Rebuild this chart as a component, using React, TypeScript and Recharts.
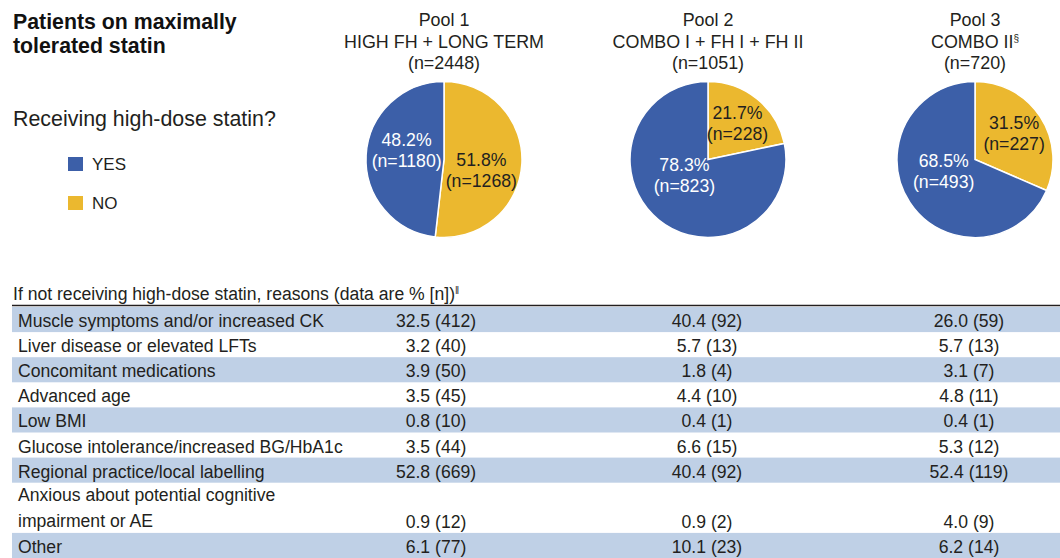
import React from 'react';
import { PieChart, Pie, Cell, Legend } from 'recharts';

// ---------- data ----------
const poolNames = ['Pool 1', 'Pool 2', 'Pool 3'];
const poolStudies = ['HIGH FH + LONG TERM', 'COMBO I + FH I + FH II', 'COMBO II'];
const poolStudyMarks = ['', '', '§'];
const poolTotals = [2448, 1051, 720];

const answerLabels = ['YES', 'NO'];
const yesPercent = [48.2, 78.3, 68.5];
const yesCount = [1180, 823, 493];
const noPercent = [51.8, 21.7, 31.5];
const noCount = [1268, 228, 227];

const reasonLabels: string[][] = [
  ['Muscle symptoms and/or increased CK'],
  ['Liver disease or elevated LFTs'],
  ['Concomitant medications'],
  ['Advanced age'],
  ['Low BMI'],
  ['Glucose intolerance/increased BG/HbA1c'],
  ['Regional practice/local labelling'],
  ['Anxious about potential cognitive', 'impairment or AE'],
  ['Other'],
];
const pool1ReasonPct = [32.5, 3.2, 3.9, 3.5, 0.8, 3.5, 52.8, 0.9, 6.1];
const pool1ReasonN = [412, 40, 50, 45, 10, 44, 669, 12, 77];
const pool2ReasonPct = [40.4, 5.7, 1.8, 4.4, 0.4, 6.6, 40.4, 0.9, 10.1];
const pool2ReasonN = [92, 13, 4, 10, 1, 15, 92, 2, 23];
const pool3ReasonPct = [26.0, 5.7, 3.1, 4.8, 0.4, 5.3, 52.4, 4.0, 6.2];
const pool3ReasonN = [59, 13, 7, 11, 1, 12, 119, 9, 14];

const titleLines = ['Patients on maximally', 'tolerated statin'];
const questionText = 'Receiving high-dose statin?';
const tableHeader = 'If not receiving high-dose statin, reasons (data are % [n])';

// ---------- styles / layout ----------
const FONT = '"Liberation Sans", Arial, Helvetica, sans-serif';
const TEXT = '#231f20';
const BLUE = '#3c5fa8';
const YELLOW = '#ebb82f';
const SHADE = '#bfd0e6';
const COLORS: Record<string, string> = { YES: BLUE, NO: YELLOW };
const PIE_CX = [444, 708, 975];
const PIE_CY = 159.5;
const PIE_R = 78;
const COL_X = [436, 707, 969];
const ROW_TOP = 307;
const ROW_H = 25.1;
const TABLE_FS = 17.6;

const pieData = poolNames.map((_, i) => [
  { answer: 'NO', pct: noPercent[i], n: noCount[i] },
  { answer: 'YES', pct: yesPercent[i], n: yesCount[i] },
]);

const reasonCols = [
  { pct: pool1ReasonPct, n: pool1ReasonN },
  { pct: pool2ReasonPct, n: pool2ReasonN },
  { pct: pool3ReasonPct, n: pool3ReasonN },
];

const renderLabel = (props: any) => {
  const { cx, cy, midAngle, outerRadius, percent } = props;
  const entry = props.payload && props.payload.n !== undefined ? props.payload : props;
  const rad = Math.PI / 180;
  const c = Math.cos(-midAngle * rad);
  const s = Math.sin(-midAngle * rad);
  let x: number;
  let y: number;
  if (percent < 0.4) {
    x = cx + outerRadius * 0.6 * c;
    y = cy + outerRadius * 0.6 * s;
  } else {
    x = cx + outerRadius * 0.48 * c;
    y = cy + outerRadius * 0.27 * s;
    if (Math.abs(s) < 0.2) y += c > 0 ? 10 : -8;
  }
  const fill = entry.answer === 'YES' ? '#ffffff' : TEXT;
  return (
    <text x={x} y={y} textAnchor="middle" fill={fill} fontSize={17.7} fontFamily={FONT}>
      <tspan x={x} y={y - 4.4}>{`${Number(entry.pct).toFixed(1)}%`}</tspan>
      <tspan x={x} y={y + 16.6}>{`(n=${entry.n})`}</tspan>
    </text>
  );
};

const LegendContent = () => (
  <svg width={120} height={70} style={{ display: 'block', overflow: 'visible' }}>
    {answerLabels.map((a, i) => (
      <g key={a}>
        <rect x={0} y={i * 39} width={15} height={14} fill={COLORS[a]} />
        <text x={24} y={i * 39 + 12.8} fontSize={17} fill={TEXT} fontFamily={FONT}>
          {a}
        </text>
      </g>
    ))}
  </svg>
);

export default function App() {
  let cursor = ROW_TOP;
  const rows = reasonLabels.map((lines, i) => {
    const top = cursor;
    const h = ROW_H * lines.length;
    cursor += h;
    return { top, h, lines, i };
  });

  return (
    <div
      style={{
        position: 'absolute',
        left: 0,
        top: 0,
        width: 1060,
        height: 558,
        background: '#ffffff',
        overflow: 'hidden',
        fontFamily: FONT,
      }}
    >
      <div style={{ position: 'absolute', left: 0, top: 0 }}>
        <PieChart width={1060} height={250} margin={{ top: 0, right: 0, bottom: 0, left: 0 }}>
          {pieData.map((data, p) => (
            <Pie
              key={poolNames[p]}
              data={data}
              dataKey="pct"
              nameKey="answer"
              cx={PIE_CX[p]}
              cy={PIE_CY}
              outerRadius={PIE_R}
              innerRadius={0}
              startAngle={90}
              endAngle={-270}
              stroke="#ffffff"
              strokeWidth={1.5}
              label={renderLabel}
              labelLine={false}
              isAnimationActive={false}
            >
              {data.map((d) => (
                <Cell key={d.answer} fill={COLORS[d.answer]} />
              ))}
            </Pie>
          ))}
          <Legend
            layout="vertical"
            align="center"
            verticalAlign="middle"
            content={<LegendContent />}
            wrapperStyle={{ left: 68, top: 157, width: 120, height: 70 }}
          />
        </PieChart>
      </div>

      <svg
        width={1060}
        height={558}
        style={{ position: 'absolute', left: 0, top: 0, pointerEvents: 'none' }}
        fontFamily={FONT}
      >
        {titleLines.map((t, i) => (
          <text key={t} x={13} y={28.5 + i * 24.5} fontSize={21.3} fontWeight="bold" fill="#111">
            {t}
          </text>
        ))}
        <text x={13} y={126} fontSize={21.4} fill={TEXT}>
          {questionText}
        </text>

        {poolNames.map((name, p) => (
          <g key={name} fill={TEXT} fontSize={17.9} textAnchor="middle">
            <text x={PIE_CX[p]} y={25.5}>{name}</text>
            <text x={PIE_CX[p]} y={47.5}>
              {poolStudies[p]}
              {poolStudyMarks[p] ? (
                <tspan fontSize={10} dy={-6}>
                  {poolStudyMarks[p]}
                </tspan>
              ) : null}
            </text>
            <text x={PIE_CX[p]} y={69}>{`(n=${poolTotals[p]})`}</text>
          </g>
        ))}

        <text x={13} y={299.5} fontSize={TABLE_FS} fill={TEXT}>
          {tableHeader}
          <tspan fontSize={10} dy={-6}>
            ‖
          </tspan>
        </text>
        <line x1={12} x2={1060} y1={305.5} y2={305.5} stroke={TEXT} strokeWidth={1.5} />

        {rows.map((r) => (
          <g key={r.i}>
            {r.i % 2 === 0 ? <rect x={12} y={r.top} width={1048} height={r.h} fill={SHADE} /> : null}
            {r.lines.map((l, k) => (
              <text
                key={l}
                x={18}
                y={r.lines.length === 1 ? r.top + 20 : r.top + 18 + k * 26.5}
                fontSize={TABLE_FS}
                fill={TEXT}
              >
                {l}
              </text>
            ))}
            {reasonCols.map((c, ci) => (
              <text
                key={ci}
                x={COL_X[ci]}
                y={r.top + r.h - ROW_H + 20}
                fontSize={TABLE_FS}
                fill={TEXT}
                textAnchor="middle"
              >
                {`${c.pct[r.i].toFixed(1)} (${c.n[r.i]})`}
              </text>
            ))}
          </g>
        ))}
      </svg>
    </div>
  );
}
